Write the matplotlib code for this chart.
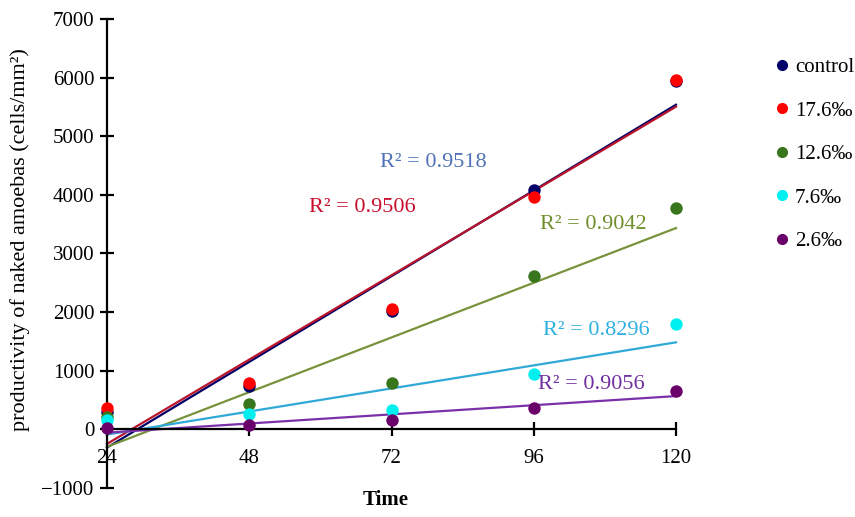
import matplotlib
matplotlib.use("Agg")
import matplotlib.pyplot as plt
from matplotlib.lines import Line2D
import numpy as np

plt.rcParams["font.family"] = ["Liberation Serif", "DejaVu Serif"]

# ── Données ──────────────────────────────────────────────────────────────────
time = [24, 48, 72, 96, 120]
series_names = ["control", "17.6‰", "12.6‰", "7.6‰", "2.6‰"]
control = [300, 733, 2017, 4080, 5937]
s176 = [364, 790, 2057, 3966, 5966]
s126 = [210, 437, 790, 2620, 3783]
s76 = [165, 267, 324, 940, 1795]
s26 = [23, 80, 153, 365, 660]
r2_labels = ["R² = 0.9518", "R² = 0.9506", "R² = 0.9042", "R² = 0.8296", "R² = 0.9056"]
r2_pos = [(79, 4560), (67, 3780), (106, 3490), (106.5, 1680), (105.7, 760)]

# ── Palette ─────────────────────────────────────────────────────────────────
dot_colors = ["#000066", "#ff0000", "#38761d", "#00f0f0", "#6a006a"]
line_colors = ["#000066", "#b8142c", "#77933c", "#31a9d8", "#7a30a8"]
text_colors = ["#4f72b8", "#c8102e", "#6f8f2a", "#2eb0e0", "#7030a0"]

fig = plt.figure(figsize=(8.55, 5.17), dpi=100)
ax = fig.add_axes([107 / 855, 29 / 517, 569 / 855, 469 / 517])

all_series = [control, s176, s126, s76, s26]
for ys, dc, lc in zip(all_series, dot_colors, line_colors):
    ax.scatter(time, ys, s=80, color=dc, zorder=3, clip_on=False, linewidths=0)
    slope, icpt = np.polyfit(time, ys, 1)
    xx = np.array([time[0], time[-1]])
    ax.plot(xx, slope * xx + icpt, color=lc, lw=1.6, zorder=2, clip_on=False)

for lab, (x, y), c in zip(r2_labels, r2_pos, text_colors):
    ax.text(x, y, lab, color=c, fontsize=16, ha="center", va="center")

ax.set_xlim(24, 120)
ax.set_ylim(-1000, 7000)
ax.set_xticks(time)
ax.set_yticks(range(-1000, 7001, 1000))
ax.spines["bottom"].set_position(("data", 0))
ax.spines["left"].set_position(("data", 24))
ax.spines["top"].set_visible(False)
ax.spines["right"].set_visible(False)
ax.spines["bottom"].set_linewidth(1.6)
ax.spines["left"].set_linewidth(1.6)
ax.tick_params(axis="both", direction="inout", length=10, width=1.6, labelsize=15)
ax.tick_params(axis="x", pad=9)
ax.tick_params(axis="y", pad=4)

ax.set_xlabel("Time", fontsize=15, fontweight="bold")
ax.xaxis.set_label_coords(0.49, -0.005)
ax.set_ylabel("productivity of naked amoebas (cells/mm²)", fontsize=16)
ax.yaxis.set_label_coords(-0.135, 0.53)

handles = [Line2D([], [], ls="none", marker="o", markersize=7, color=c) for c in dot_colors]
fig.legend(handles, series_names, loc="upper left", bbox_to_anchor=(0.893, 0.905),
           frameon=False, fontsize=15, handletextpad=0.1, labelspacing=1.15,
           handlelength=1.0, borderaxespad=0)

fig.savefig("out.png", dpi=100)
